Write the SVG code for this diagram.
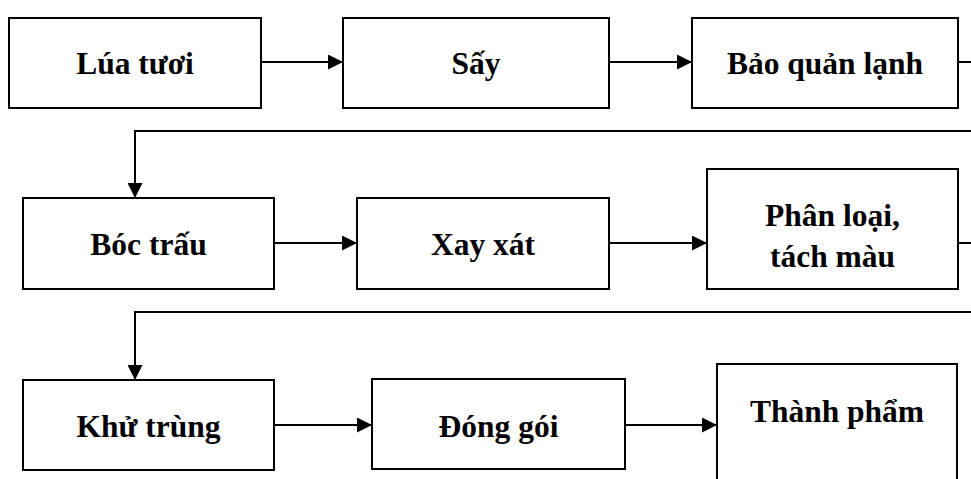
<svg xmlns="http://www.w3.org/2000/svg" width="971" height="479" viewBox="0 0 971 479">
<style>
.box{fill:#fff;stroke:#000;stroke-width:2}
.lbl{font-family:"Liberation Serif","Times New Roman",serif;font-weight:bold;font-size:31.5px;fill:#000;text-anchor:middle}
.con{fill:none;stroke:#000;stroke-width:2}
</style>
<defs>
<marker id="ah" viewBox="0 0 15 15" refX="15" refY="7.5" markerWidth="15" markerHeight="15" markerUnits="userSpaceOnUse" orient="auto">
<path d="M0,0 L15,7.5 L0,15 z" fill="#000"/>
</marker>
</defs>
<rect width="971" height="479" fill="#fff"/>
<g id="connectors">
<path class="con" d="M261,62 H343" marker-end="url(#ah)"/>
<path class="con" d="M609,62 H692" marker-end="url(#ah)"/>
<path class="con" d="M958,62 H972"/>
<path class="con" d="M972,131 H135 V198" marker-end="url(#ah)"/>
<path class="con" d="M274,243 H357" marker-end="url(#ah)"/>
<path class="con" d="M609,243 H707" marker-end="url(#ah)"/>
<path class="con" d="M958,243 H972"/>
<path class="con" d="M972,312 H135 V380" marker-end="url(#ah)"/>
<path class="con" d="M274,425 H372" marker-end="url(#ah)"/>
<path class="con" d="M625,425 H717" marker-end="url(#ah)"/>
</g>
<g id="lua-tuoi"><rect class="box" x="9" y="18" width="252" height="90"/><text class="lbl" x="135" y="74">Lúa tươi</text></g>
<g id="say"><rect class="box" x="343" y="18" width="266" height="90"/><text class="lbl" x="476" y="74">Sấy</text></g>
<g id="bao-quan-lanh"><rect class="box" x="692" y="18" width="266" height="90"/><text class="lbl" x="825" y="74">Bảo quản lạnh</text></g>
<g id="boc-trau"><rect class="box" x="23" y="198" width="251" height="91"/><text class="lbl" x="148.5" y="255">Bóc trấu</text></g>
<g id="xay-xat"><rect class="box" x="357" y="198" width="252" height="91"/><text class="lbl" x="483" y="255">Xay xát</text></g>
<g id="phan-loai"><rect class="box" x="707" y="169" width="251" height="120"/><text class="lbl" x="832.5" y="226">Phân loại,</text><text class="lbl" x="832.5" y="267">tách màu</text></g>
<g id="khu-trung"><rect class="box" x="23" y="380" width="251" height="90"/><text class="lbl" x="148.5" y="437">Khử trùng</text></g>
<g id="dong-goi"><rect class="box" x="372" y="379" width="253" height="90"/><text class="lbl" x="498.5" y="437">Đóng gói</text></g>
<g id="thanh-pham"><rect class="box" x="717" y="364" width="240" height="130"/><text class="lbl" x="837" y="422">Thành phẩm</text></g>
</svg>
